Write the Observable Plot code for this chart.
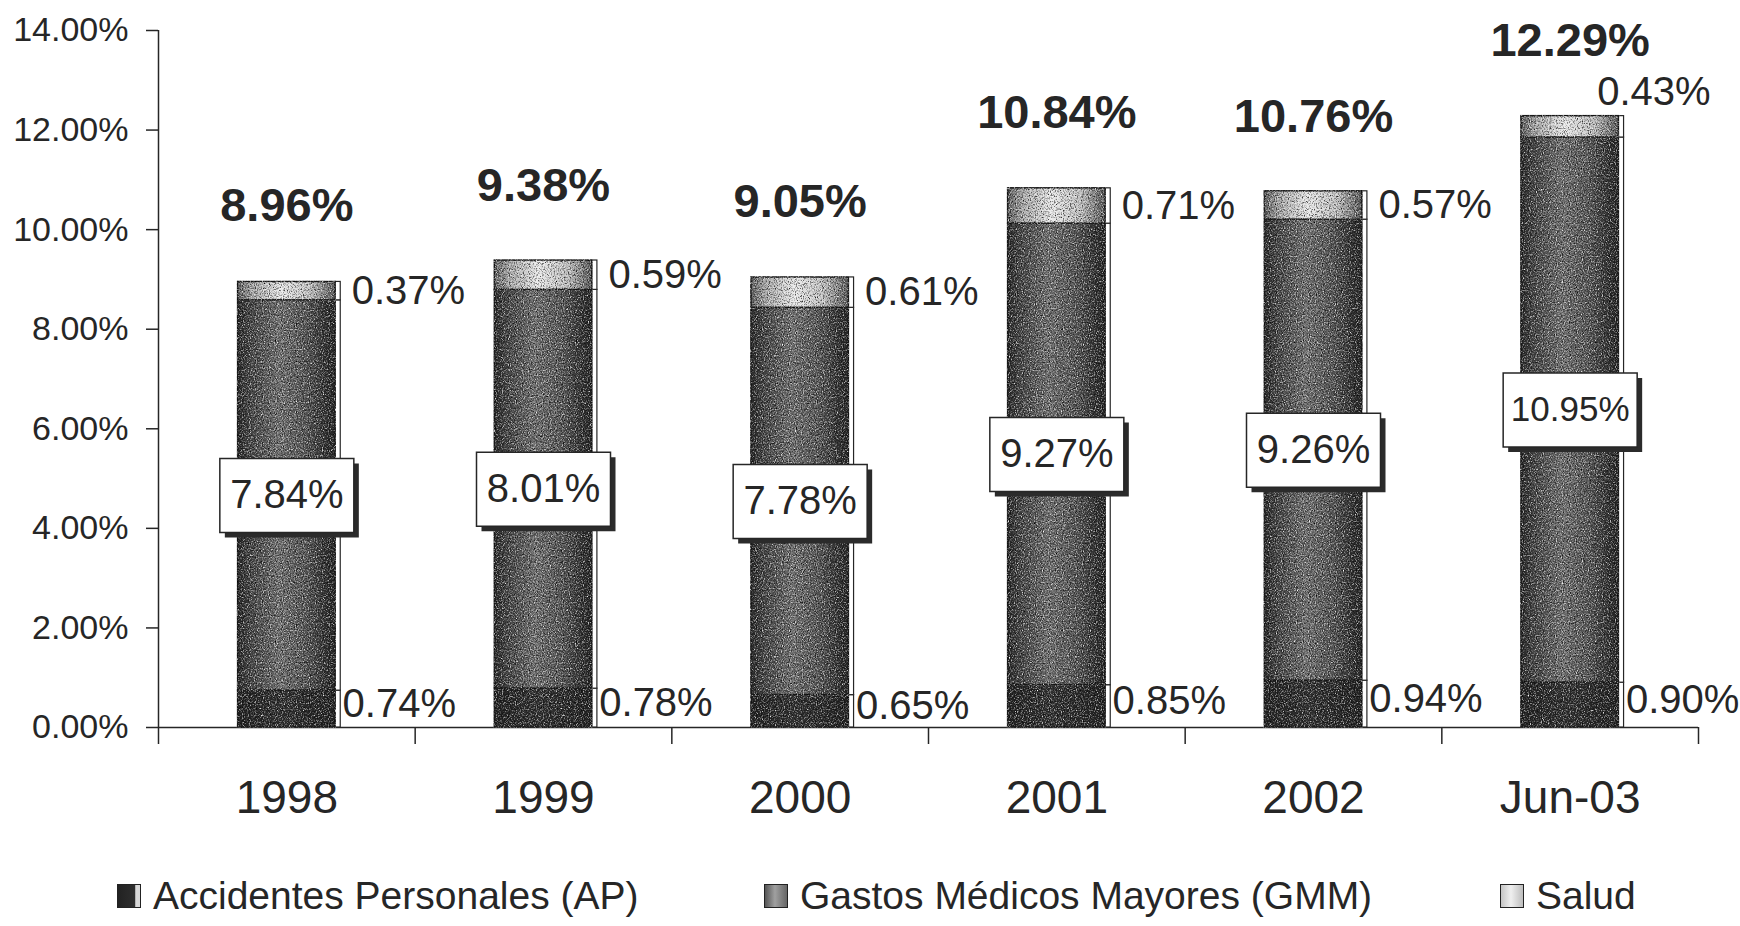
<!DOCTYPE html>
<html>
<head>
<meta charset="utf-8">
<script src="https://cdn.jsdelivr.net/npm/d3@7"></script>
<script src="https://cdn.jsdelivr.net/npm/@observablehq/plot@0.6"></script>
<style>
  body { margin: 0; background: #fff; overflow: hidden; font-family: "Liberation Sans", Arial, sans-serif; color: #262626; }
  #legend { position: relative; width: 1740px; height: 66px; }
  .item { position: absolute; top: 16px; height: 40px; display: flex; align-items: center; font-size: 39px; white-space: nowrap; }
  .sw { width: 24px; height: 24px; border: 1.5px solid #222; box-sizing: border-box; margin-right: 12px; }
</style>
</head>
<body>
<div id="chart"></div>
<div id="legend"></div>
<script>
// Siniestralidad por ramo (% sobre primas), apilada por año
const categories = ["1998", "1999", "2000", "2001", "2002", "Jun-03"];
const seriesNames = ["Accidentes Personales (AP)", "Gastos Médicos Mayores (GMM)", "Salud"];
const ap = [0.74, 0.78, 0.65, 0.85, 0.94, 0.90];
const gmm = [7.84, 8.01, 7.78, 9.27, 9.26, 10.95];
const salud = [0.37, 0.59, 0.61, 0.71, 0.57, 0.43];
const totals = [8.96, 9.38, 9.05, 10.84, 10.76, 12.29];
const yTicks = [0, 2, 4, 6, 8, 10, 12, 14];

const pct = v => v.toFixed(2) + "%";
const keys = ["ap", "gmm", "salud"];

// stacked segments, one row per category and series
const segments = categories.flatMap((cat, i) => {
  const vals = [ap[i], gmm[i], salud[i]];
  let base = 0;
  return keys.map((key, k) => {
    const y1 = base;
    base += vals[k];
    return { i, cat, key, series: seriesNames[k], value: vals[k], y1, y2: base, mid: (y1 + base) / 2 };
  });
});
const seg = key => segments.filter(d => d.key === key);
const last = categories.length - 1;

const hw = 0.19;   // half bar width, in category units
const sw = 0.02;   // depth strip beside each bar

const boxSymbol = {
  draw(ctx) {
    ctx.moveTo(-67, -37); ctx.lineTo(67, -37); ctx.lineTo(67, 37); ctx.lineTo(-67, 37); ctx.closePath();
  }
};

const ink = "#262626";

const chart = Plot.plot({
  width: 1740,
  height: 860,
  marginLeft: 158,
  marginRight: 42,
  marginTop: 30,
  marginBottom: 133,
  style: { fontFamily: "'Liberation Sans', Arial, sans-serif", color: ink, background: "white", overflow: "visible" },
  x: { type: "linear", domain: [-0.5, categories.length - 0.5], label: null },
  y: { domain: [0, 14], label: null },
  marks: [
    // y axis
    Plot.axisY({ ticks: yTicks, tickSize: 12, tickPadding: 18, tickFormat: pct, fontSize: 34, strokeWidth: 1.5 }),
    Plot.ruleX([-0.5], { stroke: ink, strokeWidth: 1.5 }),
    // x axis: ticks between categories, labels centred under each bar
    Plot.ruleY([0], { stroke: ink, strokeWidth: 1.5 }),
    Plot.axisX({ ticks: d3.range(-0.5, categories.length, 1), tickSize: 17, tickFormat: () => "", strokeWidth: 1.5 }),
    Plot.axisX({ ticks: d3.range(categories.length), tickSize: 0, tickPadding: 53, tickFormat: i => categories[i], fontSize: 46 }),

    // depth strip at the right of each column
    Plot.rect(segments, { x1: d => d.i + hw, x2: d => d.i + hw + sw, y1: "y1", y2: "y2", fill: "white", stroke: ink, strokeWidth: 1.2 }),
    // column segments
    Plot.rect(seg("ap"), { x1: d => d.i - hw, x2: d => d.i + hw, y1: "y1", y2: "y2", fill: "url(#gAP)", stroke: "#1c1c1c", strokeWidth: 1.5 }),
    Plot.rect(seg("gmm"), { x1: d => d.i - hw, x2: d => d.i + hw, y1: "y1", y2: "y2", fill: "url(#gGMM)", stroke: "#1c1c1c", strokeWidth: 1.5 }),
    Plot.rect(seg("salud"), { x1: d => d.i - hw, x2: d => d.i + hw, y1: "y1", y2: "y2", fill: "url(#gSAL)", stroke: "#1c1c1c", strokeWidth: 1.5 }),

    // AP labels beside the base of each column
    Plot.text(seg("ap"), { x: d => d.i + hw, y: "mid", text: d => pct(d.value), textAnchor: "start", dx: 7, dy: -5, fontSize: 40 }),
    // Salud labels beside the cap; the last column's label sits above it
    Plot.text(seg("salud").filter(d => d.i !== last), { x: d => d.i + hw + sw, y: "mid", text: d => pct(d.value), textAnchor: "start", dx: 11, fontSize: 40 }),
    Plot.text(seg("salud").filter(d => d.i === last), { x: "i", y: "y2", text: d => pct(d.value), textAnchor: "start", dx: 27, dy: -24, fontSize: 40 }),

    // boxed GMM labels with drop shadow
    Plot.dot(seg("gmm"), { x: "i", y: "mid", symbol: boxSymbol, fill: "#2b2b2b", stroke: "none", dx: 5, dy: 5 }),
    Plot.dot(seg("gmm"), { x: "i", y: "mid", symbol: boxSymbol, fill: "white", stroke: ink, strokeWidth: 1.5 }),
    Plot.text(seg("gmm").filter(d => pct(d.value).length <= 5), { x: "i", y: "mid", text: d => pct(d.value), fontSize: 40 }),
    Plot.text(seg("gmm").filter(d => pct(d.value).length > 5), { x: "i", y: "mid", text: d => pct(d.value), fontSize: 35 }),

    // totals above each column
    Plot.text(categories.map((c, i) => i), { x: i => i, y: i => totals[i], text: i => pct(totals[i]), dy: -75, fontSize: 47, fontWeight: "bold" })
  ]
});

// gradients and grain for the cylinder-like columns
const svg = d3.select(chart);
const defs = svg.insert("defs", ":first-child");
function gradient(id, stops) {
  const g = defs.append("linearGradient").attr("id", id).attr("x1", 0).attr("x2", 1).attr("y1", 0).attr("y2", 0);
  stops.forEach(([o, c]) => g.append("stop").attr("offset", o).attr("stop-color", c));
}
gradient("gAP", [[0, "#242424"], [0.45, "#333333"], [1, "#242424"]]);
gradient("gGMM", [[0, "#2a2a2a"], [0.12, "#444444"], [0.42, "#707070"], [0.7, "#575757"], [0.92, "#303030"], [1, "#282828"]]);
gradient("gSAL", [[0, "#5c5c5c"], [0.15, "#a8a8a8"], [0.45, "#e8e8e8"], [0.75, "#c0c0c0"], [1, "#585858"]]);

const f = defs.append("filter").attr("id", "grain").attr("color-interpolation-filters", "sRGB");
f.append("feTurbulence").attr("type", "fractalNoise").attr("baseFrequency", 0.85).attr("numOctaves", 2).attr("seed", 5).attr("result", "noise");
f.append("feColorMatrix").attr("in", "noise").attr("type", "matrix")
  .attr("values", "0.33 0.33 0.33 0 0  0.33 0.33 0.33 0 0  0.33 0.33 0.33 0 0  0 0 0 0 1").attr("result", "gray");
const ct = f.append("feComponentTransfer").attr("in", "gray").attr("result", "contrast");
["feFuncR", "feFuncG", "feFuncB"].forEach(n => ct.append(n).attr("type", "linear").attr("slope", 2.0).attr("intercept", -0.5));
f.append("feBlend").attr("in", "SourceGraphic").attr("in2", "contrast").attr("mode", "overlay").attr("result", "blend");
f.append("feComposite").attr("in", "blend").attr("in2", "SourceGraphic").attr("operator", "in");

svg.selectAll('g[fill="url(#gGMM)"], g[fill="url(#gSAL)"], g[fill="url(#gAP)"]').attr("filter", "url(#grain)");

document.getElementById("chart").appendChild(chart);

// legend
const swatches = [
  "linear-gradient(to right, #222 0%, #2e2e2e 78%, #d8d8d8 80%, #d8d8d8 100%)",
  "linear-gradient(to right, #555 0%, #a0a0a0 45%, #666 100%)",
  "linear-gradient(to right, #c4c4c4 0%, #efefef 45%, #bdbdbd 100%)"
];
const itemLeft = [117, 764, 1500];
const legend = d3.select("#legend");
seriesNames.forEach((name, k) => {
  const item = legend.append("div").attr("class", "item").style("left", itemLeft[k] + "px");
  item.append("div").attr("class", "sw").style("background", swatches[k]);
  item.append("span").text(name);
});
</script>
</body>
</html>
